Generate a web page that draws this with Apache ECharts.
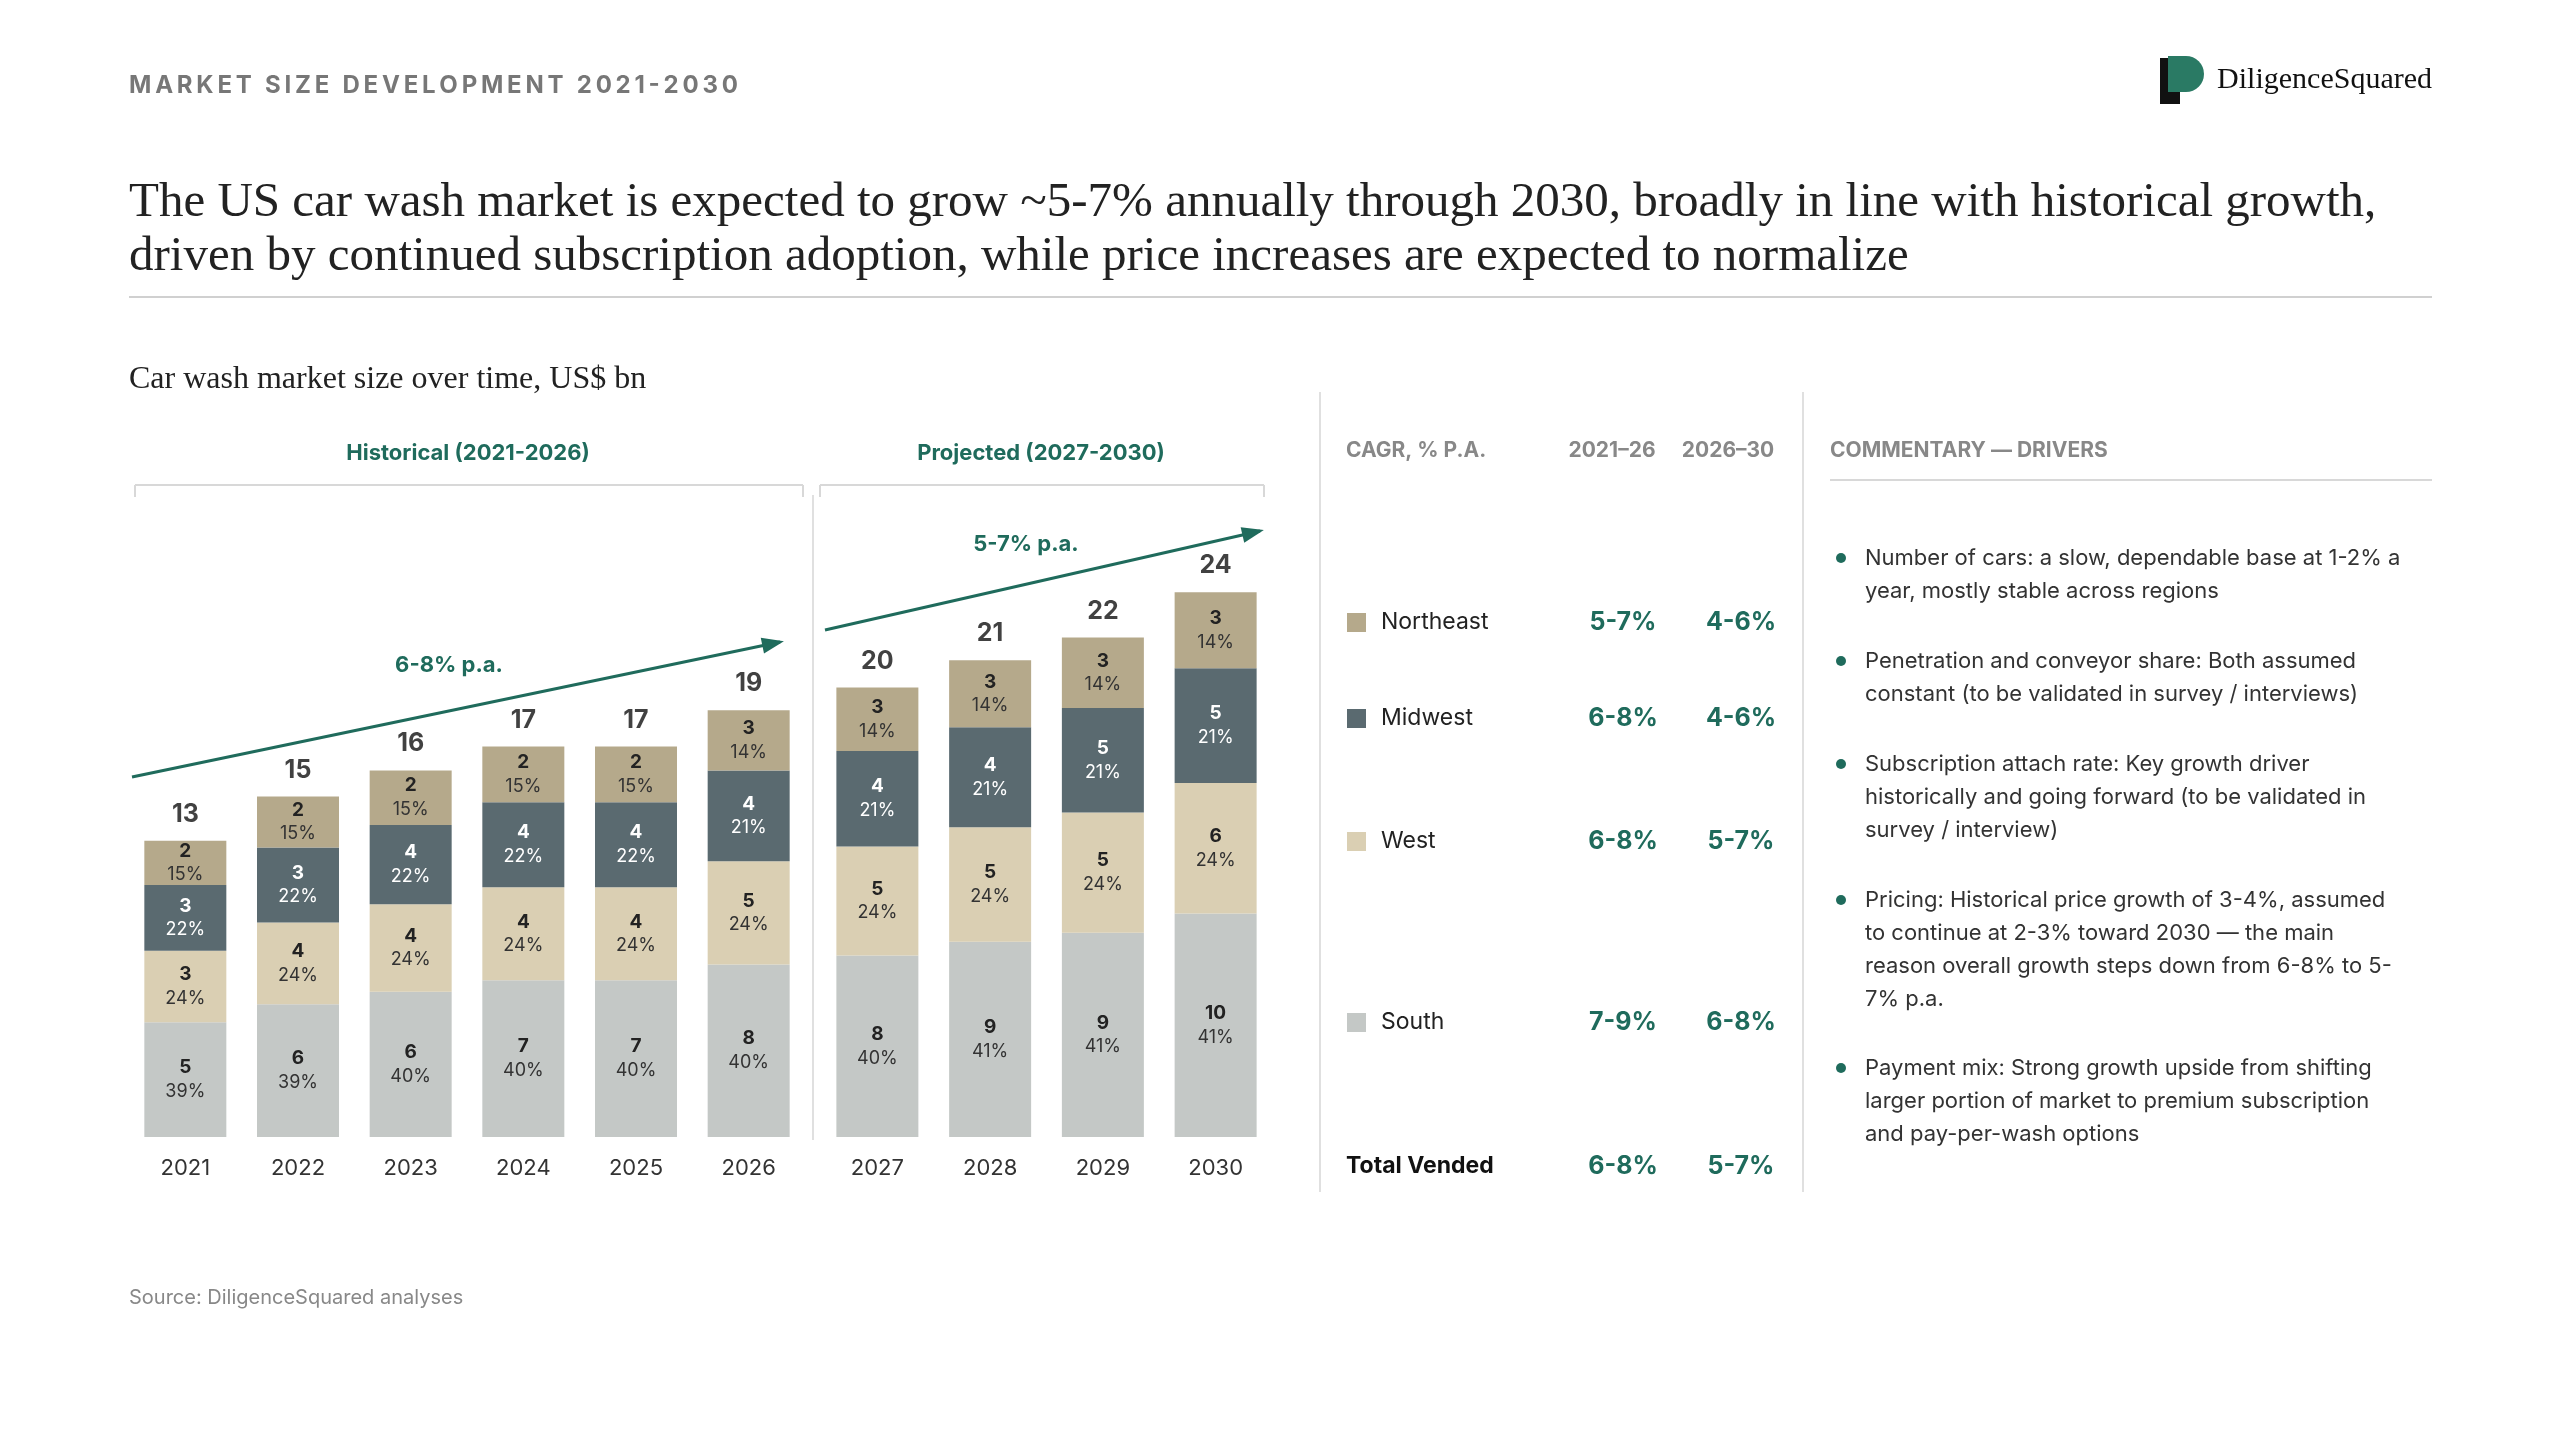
<!DOCTYPE html>
<html><head><meta charset="utf-8">
<script src="https://cdn.jsdelivr.net/npm/echarts@6/dist/echarts.min.js"></script>
<style>html,body{margin:0;background:#fff}#c{width:2560px;height:1440px}</style>
</head><body><div id="c"></div>
<script>
const yearsHist = ['2021','2022','2023','2024','2025','2026'];
const yearsProj = ['2027','2028','2029','2030'];
const south   = [5.05,5.85,6.4,6.9,6.9,7.6, 8.0,8.6,9.0,9.85];
const west    = [3.15,3.6,3.85,4.1,4.1,4.55, 4.8,5.05,5.3,5.75];
const midwest = [2.9,3.3,3.5,3.75,3.75,4.0, 4.2,4.4,4.6,5.05];
const northeast=[1.95,2.25,2.4,2.45,2.45,2.65, 2.8,2.95,3.1,3.35];
const southPct = ['39%','39%','40%','40%','40%','40%','40%','41%','41%','41%'];
const westPct  = ['24%','24%','24%','24%','24%','24%','24%','24%','24%','24%'];
const midPct   = ['22%','22%','22%','22%','22%','21%','21%','21%','21%','21%'];
const nePct    = ['15%','15%','15%','15%','15%','14%','14%','14%','14%','14%'];
const totals   = [13,15,16,17,17,19,20,21,22,24];
const regions = ['Northeast','Midwest','West','South'];
const cagrHist = ['5-7%','6-8%','6-8%','7-9%'];
const cagrProj = ['4-6%','4-6%','5-7%','6-8%'];
const totalCagr = ['6-8%','5-7%'];
const comments = [
 ['Number of cars: a slow, dependable base at 1-2% a','year, mostly stable across regions'],
 ['Penetration and conveyor share: Both assumed','constant (to be validated in survey / interviews)'],
 ['Subscription attach rate: Key growth driver','historically and going forward (to be validated in','survey / interview)'],
 ['Pricing: Historical price growth of 3-4%, assumed','to continue at 2-3% toward 2030 — the main','reason overall growth steps down from 6-8% to 5-','7% p.a.'],
 ['Payment mix: Strong growth upside from shifting','larger portion of market to premium subscription','and pay-per-wash options']
];

const GREEN='#1f6b5c', F='Inter, "Noto Sans", sans-serif', SERIF='"Liberation Serif", "DejaVu Serif", serif';
const colors = {ne:'#b5a98b', mw:'#5a6a70', w:'#dacfb3', s:'#c4c8c6'};

function seriesFor(gi, off, n){
  const sl = a => a.slice(off, off+n);
  const mk = (name, vals, pcts, color, dark) => ({
    type:'bar', name, stack:'t'+gi, xAxisIndex:gi, yAxisIndex:gi, barWidth:82,
    itemStyle:{color}, data: sl(vals),
    label:{show:true, position:'inside', lineHeight:24, color: dark?'#222':'#fff',
      formatter: p => '{v|'+Math.round(p.value)+'}\n{p|'+sl(pcts)[p.dataIndex]+'}',
      rich:{v:{fontFamily:F,fontWeight:'bold',fontSize:19,color:dark?'#222':'#fff'},
            p:{fontFamily:F,fontSize:18,color:dark?'#333':'#fff'}}}
  });
  const tot = sl(south).map((v,i)=>v+sl(west)[i]+sl(midwest)[i]+sl(northeast)[i]);
  return [
    mk('South', south, southPct, colors.s, true),
    mk('West', west, westPct, colors.w, true),
    mk('Midwest', midwest, midPct, colors.mw, false),
    mk('Northeast', northeast, nePct, colors.ne, true),
    {type:'scatter', xAxisIndex:gi, yAxisIndex:gi, symbolSize:0, data:tot,
     label:{show:true, position:'top', distance:14, fontFamily:F, fontWeight:'bold', fontSize:25, color:'#111',
      formatter:p=>sl(totals)[p.dataIndex]}}
  ];
}

const g = [];
const txt = (x,y,t,s)=>g.push({type:'text',x,y,style:Object.assign({text:t,fill:'#222',font:'22px '+F},s||{})});
const line=(x1,y1,x2,y2,c,w)=>g.push({type:'line',shape:{x1,y1,x2,y2},style:{stroke:c||'#d8d8d8',lineWidth:w||2}});
txt(129,86,'MARKET SIZE DEVELOPMENT 2021-2030'.split('').join('\u2009'),{font:'bold 24px '+F,fill:'#777',verticalAlign:'middle'});
txt(129,203,'The US car wash market is expected to grow ~5-7% annually through 2030, broadly in line with historical growth,',{font:'49px '+SERIF,verticalAlign:'middle'});
txt(129,257,'driven by continued subscription adoption, while price increases are expected to normalize',{font:'49px '+SERIF,verticalAlign:'middle'});
line(129,297,2432,297,'#d0d0d0',2);
txt(129,380,'Car wash market size over time, US$ bn',{font:'32px '+SERIF,verticalAlign:'middle'});
// logo
g.push({type:'rect',shape:{x:2160,y:58,width:20,height:46},style:{fill:'#111'}});
g.push({type:'circle',shape:{cx:2186,cy:74,r:18},style:{fill:'#2a7a64'}});
g.push({type:'rect',shape:{x:2168,y:56,width:18,height:36},style:{fill:'#2a7a64'}});
txt(2432,80,'DiligenceSquared',{font:'30px '+SERIF,align:'right',verticalAlign:'middle',fill:'#111'});
// brackets
txt(468,453,'Historical (2021-2026)',{font:'bold 22px '+F,fill:GREEN,align:'center',verticalAlign:'middle'});
txt(1041,453,'Projected (2027-2030)',{font:'bold 22px '+F,fill:GREEN,align:'center',verticalAlign:'middle'});
line(135,485,803,485); line(135,485,135,497); line(803,485,803,497);
line(820,485,1264,485); line(820,485,820,497); line(1264,485,1264,497);
line(813,495,813,1140,'#e0e0e0',2);
// arrows
const arrow=(x1,y1,x2,y2)=>{line(x1,y1,x2,y2,GREEN,3);
  const a=Math.atan2(y2-y1,x2-x1),L=18,W=8;
  g.push({type:'polygon',shape:{points:[[x2+4*Math.cos(a),y2+4*Math.sin(a)],[x2-L*Math.cos(a)+W*Math.sin(a),y2-L*Math.sin(a)-W*Math.cos(a)],[x2-L*Math.cos(a)-W*Math.sin(a),y2-L*Math.sin(a)+W*Math.cos(a)]]},style:{fill:GREEN}});};
arrow(132,777,780,642); arrow(825,630,1260,531);
txt(449,665,'6-8% p.a.',{font:'bold 22px '+F,fill:GREEN,align:'center',verticalAlign:'middle'});
txt(1026,544,'5-7% p.a.',{font:'bold 22px '+F,fill:GREEN,align:'center',verticalAlign:'middle'});
// table
line(1320,392,1320,1192,'#e0e0e0',2); line(1803,392,1803,1192,'#e0e0e0',2);
txt(1346,451,'CAGR, % P.A.',{font:'bold 21px '+F,fill:'#888',verticalAlign:'middle'});
txt(1612,451,'2021–26',{font:'bold 21px '+F,fill:'#888',align:'center',verticalAlign:'middle'});
txt(1728,451,'2026–30',{font:'bold 21px '+F,fill:'#888',align:'center',verticalAlign:'middle'});
const rowY=[622,718,841,1022], rc=[colors.ne,colors.mw,colors.w,colors.s];
regions.forEach((r,i)=>{
  g.push({type:'rect',shape:{x:1347,y:rowY[i]-9,width:19,height:19},style:{fill:rc[i]}});
  txt(1381,rowY[i],r,{font:'23px '+F,verticalAlign:'middle'});
  txt(1623,rowY[i],cagrHist[i],{font:'bold 25px '+F,fill:GREEN,align:'center',verticalAlign:'middle'});
  txt(1741,rowY[i],cagrProj[i],{font:'bold 25px '+F,fill:GREEN,align:'center',verticalAlign:'middle'});
});
txt(1346,1166,'Total Vended',{font:'bold 23px '+F,fill:'#111',verticalAlign:'middle'});
txt(1623,1166,totalCagr[0],{font:'bold 25px '+F,fill:GREEN,align:'center',verticalAlign:'middle'});
txt(1741,1166,totalCagr[1],{font:'bold 25px '+F,fill:GREEN,align:'center',verticalAlign:'middle'});
txt(1830,451,'COMMENTARY — DRIVERS',{font:'bold 21px '+F,fill:'#888',verticalAlign:'middle'});
line(1830,480,2432,480,'#d8d8d8',2);
const by=[558,661,764,900,1068];
comments.forEach((c,i)=>{
  g.push({type:'circle',shape:{cx:1841,cy:by[i],r:5},style:{fill:GREEN}});
  c.forEach((l,j)=>txt(1865,by[i]+j*33,l,{font:'22px '+F,fill:'#333',verticalAlign:'middle'}));
});
txt(129,1298,'Source: DiligenceSquared analyses',{font:'20px '+F,fill:'#888',verticalAlign:'middle'});

const xa = (d)=>({type:'category',data:d,axisLine:{show:false},axisTick:{show:false},
  axisLabel:{fontFamily:F,fontSize:22,color:'#333',margin:20}});
const ya = {type:'value',min:0,max:30,show:false,splitLine:{show:false}};
const chart = echarts.init(document.getElementById('c'));
chart.setOption({
  animation:false,
  grid:[{left:129,width:676,top:456,height:681},{left:821,width:451,top:456,height:681}],
  xAxis:[Object.assign(xa(yearsHist),{gridIndex:0}),Object.assign(xa(yearsProj),{gridIndex:1})],
  yAxis:[Object.assign({gridIndex:0},ya),Object.assign({gridIndex:1},ya)],
  series:[...seriesFor(0,0,6),...seriesFor(1,6,4)],
  graphic:g
});
</script></body></html>
